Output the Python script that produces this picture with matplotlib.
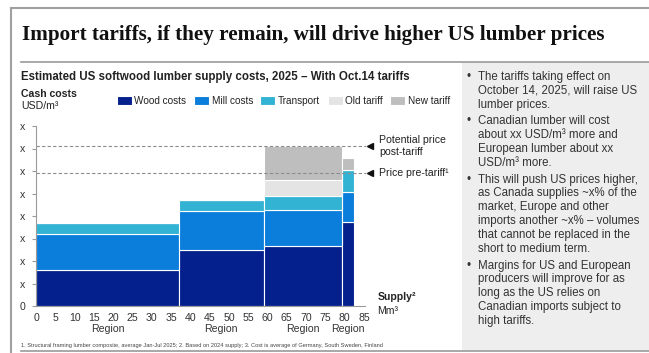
import numpy as np
import matplotlib.pyplot as plt
from matplotlib.patches import Rectangle
from matplotlib.lines import Line2D

# chart values
regions = ['Region', 'Region', 'Region', 'Region']
supply = [37, 22, 20.2, 3.3]          # Mm3 per region (bar widths)
wood = [1.6, 2.5, 2.68, 3.72]
mill = [1.6, 1.71, 1.59, 1.35]
transport = [0.49, 0.48, 0.61, 0.97]
old_tariff = [0, 0, 0.72, 0]
new_tariff = [0, 0, 1.5, 0.54]
price_post = 7.11
price_pre = 5.92
y_ticks = [0, 1, 2, 3, 4, 5, 6, 7, 8]
y_labels = ['0', 'x', 'x', 'x', 'x', 'x', 'x', 'x', 'x']
x_ticks = list(range(0, 90, 5))

series = [('Wood costs', wood, '#03208c'),
          ('Mill costs', mill, '#0b7ddb'),
          ('Transport', transport, '#32b3d3'),
          ('Old tariff', old_tariff, '#e4e4e4'),
          ('New tariff', new_tariff, '#bebebe')]

bullets = [
    "The tariffs taking effect on\nOctober 14, 2025, will raise US\nlumber prices.",
    "Canadian lumber will cost\nabout xx USD/m\u00b3 more and\nEuropean lumber about xx\nUSD/m\u00b3 more.",
    "This will push US prices higher,\nas Canada supplies ~x% of the\nmarket, Europe and other\nimports another ~x% \u2013 volumes\nthat cannot be replaced in the\nshort to medium term.",
    "Margins for US and European\nproducers will improve for as\nlong as the US relies on\nCanadian imports subject to\nhigh tariffs.",
]

plt.rcParams['font.family'] = ['Liberation Sans', 'DejaVu Sans']

W, H = 649, 353
fig = plt.figure(figsize=(W / 100, H / 100), dpi=100)

def px(x, y):
    return x / W, 1 - y / H

# frame and separators
fig.add_artist(Line2D([px(11, 0)[0], px(11, 0)[0]], [px(0, 8)[1], 0], color='#a0a0a0', lw=1.5))
fig.add_artist(Line2D([px(11, 0)[0], 1], [px(0, 8)[1]] * 2, color='#a0a0a0', lw=1.5))
fig.add_artist(Line2D([px(21, 0)[0], 1], [px(0, 61.5)[1]] * 2, color='#9a9a9a', lw=1.2))
fig.add_artist(Line2D([px(21, 0)[0], 1], [px(0, 351)[1]] * 2, color='#9a9a9a', lw=1.2))

# right comment box
x0, y0 = px(462, 350)
fig.add_artist(Rectangle((x0, y0), 1 - x0, px(0, 62)[1] - y0, transform=fig.transFigure,
                         facecolor='#eeeeee', edgecolor='none', zorder=0))

title = fig.text(*px(22, 35), 'Import tariffs, if they remain, will drive higher US lumber prices',
                 family=['Liberation Serif', 'DejaVu Serif'], fontweight='bold', fontsize=15,
                 va='center', ha='left', color='#111111')
# fit title to the width it has in the reference
r = fig.canvas.get_renderer()
tw = title.get_window_extent(r).width
title.set_fontsize(15 * 585 / tw)

fig.text(*px(21, 77), 'Estimated US softwood lumber supply costs, 2025 \u2013 With Oct.14 tariffs',
         fontweight='bold', fontsize=8.3, va='center', color='#222222')
fig.text(*px(21, 94), 'Cash costs', fontweight='bold', fontsize=7.6, va='center', color='#222222')
fig.text(*px(21, 106), 'USD/m\u00b3', fontsize=7.6, va='center', color='#222222')

ax = fig.add_axes([36 / W, 1 - 306 / H, (364 - 36) / W, (306 - 126) / H])
edges = np.concatenate([[0], np.cumsum(supply)[:-1]])
bottom = np.zeros(len(supply))
for name, vals, col in series:
    ax.bar(edges, vals, width=supply, bottom=bottom, align='edge', color=col,
           edgecolor='white', linewidth=0.8, label=name)
    bottom += np.array(vals)

for yv in (price_post, price_pre):
    ax.plot([0, 85.5], [yv, yv], ls=(0, (3, 2)), color='#8c8c8c', lw=0.8, clip_on=False)
    ax.plot([86.5], [yv], marker='<', color='#111111', ms=5, clip_on=False)
ax.text(89, price_post, 'Potential price\npost-tariff', fontsize=7.6, va='center',
        color='#222222', linespacing=1.2)
ax.text(89, price_pre, 'Price pre-tariff\u00b9', fontsize=7.6, va='center', color='#222222')

ax.set_xlim(0, 85)
ax.set_ylim(0, 8)
ax.set_yticks(y_ticks)
ax.set_yticklabels(y_labels)
ax.set_xticks(x_ticks)
for s in ('top', 'right'):
    ax.spines[s].set_visible(False)
for s in ('left', 'bottom'):
    ax.spines[s].set_color('#9a9a9a')
    ax.spines[s].set_linewidth(0.8)
ax.spines['bottom'].set_bounds(0, 85.3)
ax.tick_params(axis='y', length=3, color='#9a9a9a', labelsize=7.6, labelcolor='#333333', pad=5)
ax.tick_params(axis='x', length=0, labelsize=7.6, labelcolor='#333333', pad=5)

centers = edges + np.array(supply) / 2
for c, rg in zip(centers, regions):
    ax.text(c, -1.03, rg, fontsize=7.6, ha='center', va='center', color='#333333')

ax.text(88.5, 0.4, 'Supply\u00b2', fontweight='bold', fontsize=7.6, va='center', color='#222222')
ax.text(88.5, -0.2, 'Mm\u00b3', fontsize=7.6, va='center', color='#222222')

leg = fig.legend(loc='center left', bbox_to_anchor=px(117, 101), ncol=5, frameon=False,
                 fontsize=7.2, handlelength=1.5, handleheight=0.9, handletextpad=0.25,
                 columnspacing=0.75, borderaxespad=0, borderpad=0)
for t in leg.get_texts():
    t.set_color('#222222')

fig.text(*px(21, 345), '1. Structural framing lumber composite, average Jan-Jul 2025; 2. Based on 2024 supply; '
         '3. Cost is average of Germany, South Sweden, Finland', fontsize=4.1, va='center', color='#444444')

# bullet text in the grey box
y = 71
for b in bullets:
    n = b.count('\n') + 1
    fig.text(*px(467, y), '\u2022', fontsize=8.3, va='top', color='#333333')
    fig.text(*px(478, y), b, fontsize=8.3, va='top', color='#333333', linespacing=1.2)
    y += n * 13.9 + 2.6

fig.savefig('out.png', dpi=100)
